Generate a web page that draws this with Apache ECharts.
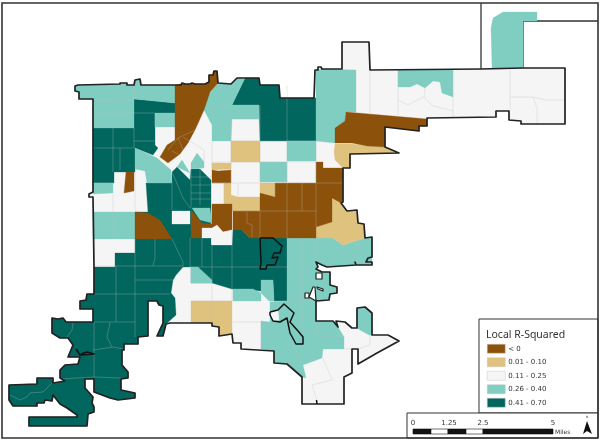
<!DOCTYPE html>
<html><head><meta charset="utf-8">
<style>html,body{margin:0;padding:0;background:#fff}#c{width:600px;height:441px}</style>
<script src="https://cdn.jsdelivr.net/npm/echarts@6/dist/echarts.min.js"></script>
</head><body><div id="c"></div>
<script>
const classNames = ['< 0','0.01 - 0.10','0.11 - 0.25','0.26 - 0.40','0.41 - 0.70'];
const classColors = ['#8c510a','#dfc27d','#f5f5f5','#80cdc1','#01665e'];
const scaleLabels = ['0','1.25','2.5','5'];

const southWestEdge = [[287,301],[274,301],[273,280],[261,280],[261,291],[232,289],[212,283],[191,283],[191,267],[183,267],[176,275],[173,280],[171,293],[175,298],[176,315],[166,324],[163,336],[157,336],[163,323],[163,306],[159,305],[157,301],[148,301],[148,336],[138,337],[138,344],[124,344],[124,350],[122,350],[122,365],[128,372],[128,378],[121,379],[121,390],[135,393],[135,398],[118,400],[110,398],[94,392],[94,379],[85,379],[85,388],[93,397],[92,403],[94,407],[94,412],[88,414],[87,426],[29,426],[29,417],[77,417],[77,415],[67,408],[60,404],[53,395],[52,401],[45,400],[44,403],[37,403],[37,406],[13,406],[9,400],[9,385],[37,384],[37,378],[53,378],[53,383],[65,381],[60,378],[60,370],[65,365],[78,364],[80,357],[68,357],[73,345],[68,338],[60,338],[52,333],[52,318],[58,319],[63,318],[66,322],[93,322],[93,309],[80,309],[80,301],[86,300],[87,294],[94,294],[94,267]];

const cityOutline = [[93,99],[79,99],[79,92],[75,91],[75,86],[78,85],[120,84],[120,83],[127,83],[127,85],[134,85],[135,80],[140,79],[141,85],[181,85],[182,83],[185,84],[190,84],[192,83],[195,84],[205,84],[209,82],[209,75],[213,75],[214,71],[217,71],[218,83],[231,84],[237,78],[259,78],[260,85],[279,85],[280,98],[314,98],[315,70],[318,70],[318,67],[321,67],[322,69],[342,69],[342,42],[369,42],[370,70],[481,69],[523,68],[565,68],[565,124],[521,124],[521,121],[509,120],[509,111],[496,111],[496,117],[427,118],[427,126],[419,126],[419,131],[385,127],[385,147],[399,153],[350,154],[350,168],[343,168],[343,202],[341,203],[347,211],[357,210],[358,223],[364,224],[365,238],[372,237],[372,257],[368,258],[366,262],[372,262],[372,265],[356,265],[355,262],[356,265],[327,267],[322,265],[316,262],[318,267],[316,269],[322,272],[330,272],[330,285],[337,287],[337,293],[330,294],[329,300],[316,301],[316,321],[333,321],[338,327],[336,321],[345,322],[352,328],[357,328],[357,308],[365,307],[372,313],[372,335],[388,335],[399,341],[377,353],[358,364],[358,349],[352,349],[352,373],[344,377],[344,404],[302,404],[302,377],[287,364],[274,363],[274,351],[241,349],[241,343],[233,343],[232,334],[219,336],[219,327],[212,326],[212,323],[170,323]].concat(southWestEdge.slice(15)).concat([[93,197],[89,197],[89,194],[93,192]]);

// fills, one list per class
const brownTracts = [
 [[346,112],[427,119],[427,126],[419,126],[419,131],[385,127],[385,147],[367,146],[352,143],[335,143],[335,128],[345,121]],
 [[175,85],[181,84],[205,84],[209,82],[209,75],[213,75],[214,71],[217,71],[218,83],[210,92],[204,110],[195,130],[188,143],[180,154],[168,163],[160,157],[167,145],[175,140]],
 [[212,170],[218,171],[231,170],[231,183],[212,183]],
 [[126,172],[134,172],[134,191],[124,193]],
 [[135,212],[148,213],[160,220],[172,239],[135,239]],
 [[191,210],[202,223],[212,224],[212,228],[202,228],[202,238],[191,238]],
 [[212,204],[232,204],[232,230],[223,232],[217,227],[212,228]],
 [[260,193],[275,197],[275,183],[316,183],[316,162],[323,162],[323,168],[343,168],[343,202],[341,203],[332,198],[332,222],[316,227],[316,238],[250,238],[242,230],[233,230],[233,211],[260,211]]
];
const tanTracts = [
 [[335,144],[352,144],[367,146],[385,147],[399,153],[350,154],[350,168],[343,168],[335,160],[334,152]],
 [[231,141],[260,141],[260,162],[231,162]],
 [[212,163],[231,163],[231,169],[212,170]],
 [[224,183],[231,183],[231,195],[238,197],[260,197],[260,211],[232,211],[232,204],[224,204]],
 [[260,183],[275,183],[275,197],[260,193]],
 [[332,198],[341,203],[347,211],[357,210],[358,223],[364,224],[365,238],[343,245],[333,238],[316,238],[316,227],[332,222]],
 [[191,301],[232,301],[232,334],[219,336],[219,327],[212,326],[212,323],[191,323]]
];
const lightTealTracts = [
 [[93,99],[79,99],[79,92],[75,91],[75,86],[78,85],[120,84],[120,83],[127,83],[127,85],[134,85],[135,80],[140,79],[141,85],[175,85],[175,103],[134,99],[134,128],[93,128]],
 [[155,113],[175,113],[175,127],[155,127]],
 [[93,183],[113,183],[113,193],[93,194]],
 [[93,212],[135,212],[135,239],[93,239]],
 [[135,148],[144,152],[157,158],[171,170],[172,183],[147,183],[145,171],[135,169]],
 [[182,160],[190,173],[177,167]],
 [[191,163],[197,153],[204,162],[204,168],[191,169]],
 [[192,208],[210,208],[212,223],[200,220]],
 [[218,83],[231,84],[237,78],[245,78],[232,105],[259,105],[259,119],[232,119],[231,141],[212,141],[212,125],[204,110],[208,95]],
 [[316,70],[322,69],[356,70],[356,112],[346,112],[345,121],[335,128],[335,143],[316,141],[316,98]],
 [[398,70],[453,70],[453,97],[442,93],[440,82],[433,81],[425,88],[417,84],[410,87],[398,87]],
 [[287,141],[316,141],[316,161],[287,161]],
 [[260,162],[287,162],[287,182],[260,182]],
 [[191,267],[198,267],[212,280],[212,283],[191,283]],
 [[233,289],[253,289],[261,293],[261,301],[233,301]],
 [[261,280],[273,280],[274,301],[269,301],[261,293]],
 [[287,238],[333,238],[343,245],[365,238],[372,237],[372,265],[356,265],[327,267],[322,265],[316,262],[318,267],[316,269],[322,272],[330,272],[330,285],[337,287],[337,293],[330,294],[329,300],[316,301],[316,321],[333,321],[338,327],[344,337],[344,349],[323,349],[322,358],[303,365],[306,378],[302,377],[287,364],[274,363],[274,351],[261,349],[261,321],[270,322],[270,302],[287,301]],
 [[357,328],[357,308],[365,307],[372,313],[372,335],[369,335],[360,330]],
 [[492,68],[491,28],[493,18],[503,12],[537,12],[537,21],[523,21],[523,68]]
];
const darkTracts = [
 [[93,128],[134,128],[134,99],[175,103],[175,113],[155,113],[155,145],[158,148],[153,155],[135,148],[135,172],[114,172],[114,183],[93,183]],
 [[245,78],[259,78],[260,85],[279,85],[280,98],[316,98],[316,141],[260,141],[259,105],[232,105]],
 [[146,183],[172,183],[172,172],[177,167],[190,180],[191,169],[200,169],[211,180],[211,245],[232,245],[233,230],[242,230],[250,238],[287,238]].concat(southWestEdge).concat([[115,267],[115,253],[135,253],[135,212],[148,212]])
];
const cityBase = [cityOutline];
const whitePatches = [
 [[172,211],[190,211],[190,224],[172,224]],
 [[202,228],[212,228],[212,238],[202,238]],
 [[212,228],[217,225],[223,232],[232,230],[232,245],[212,245]],
 [[270,312],[278,310],[279,320],[273,321],[270,316]]
];

const enclaves = [
 [[260,238],[273,238],[282,246],[280,253],[274,253],[272,258],[278,257],[275,265],[267,265],[266,269],[260,269],[261,263],[260,238]],
 [[270,312],[278,310],[284,304],[294,313],[290,322],[298,331],[303,337],[303,344],[296,344],[290,333],[287,318],[280,322],[273,321],[270,315],[270,312]],
 [[316,273],[322,273],[322,279],[316,279],[316,273]],
 [[317,287],[323,289],[323,291],[318,289],[317,287]],
 [[305,293],[309,293],[309,298],[305,298],[305,293]],
 [[313,287],[315,287],[316,301],[309,297]],
 [[76,349],[80,355],[94,354],[87,352],[81,354]],
 [[316.5,400],[317,404]]
];
const holes = [enclaves[2],enclaves[3],enclaves[4],enclaves[5]];
const outerLines = [
 [[481,69],[481,3]],
 [[523,68],[523,21],[598,21]]
];

const tractLines = [
 [[113,128],[113,172]],[[93,148],[134,148]],[[120,148],[120,170]],[[134,128],[134,148]],[[134,141],[155,141]],[[134,113],[155,113]],[[134,85],[134,99]],[[93,100],[120,101],[134,99]],[[93,113],[134,113]],[[93,183],[114,183]],
 [[113,194],[113,239]],[[135,172],[135,212]],[[172,183],[172,210]],[[172,172],[183,198],[190,208]],
 [[191,177],[211,177]],[[191,185],[211,185]],[[191,193],[211,193]],[[191,199],[211,199]],[[200,169],[200,205]],[[191,169],[191,208]],[[155,113],[155,127]],
 [[260,211],[260,238]],[[275,183],[275,197]],[[287,183],[287,238]],[[302,183],[302,211]],[[233,211],[316,211]],[[316,183],[342,183]],[[316,162],[316,227]],[[247,212],[247,223],[252,225],[252,237]],[[212,183],[231,183]],[[224,183],[224,204]],[[238,183],[238,197]],
 [[135,239],[135,337]],[[155,239],[155,258],[153,266]],[[172,239],[183,262],[183,266]],[[94,266],[183,266]],[[135,280],[174,280]],[[94,294],[170,294]],[[190,238],[190,267]],[[202,238],[202,267]],[[190,267],[287,267]],[[212,245],[212,283]],[[232,230],[232,301]],[[212,283],[212,300]],[[191,301],[233,301]],[[212,300],[212,323]],[[233,322],[261,322]],[[261,321],[261,349]],
 [[303,238],[303,320]],[[316,238],[316,262]],[[287,265],[316,290]],[[270,301],[316,301]],[[316,321],[317,336]],[[317,336],[344,336]],[[293,345],[302,363]],[[323,358],[332,380],[312,385],[317,400]],[[333,238],[356,258]],[[358,240],[358,263]],[[370,335],[370,345],[358,349]],[[344,349],[352,349]],[[303,320],[303,345]],
 [[370,70],[370,115]],[[398,70],[398,117]],[[453,70],[453,117]],[[510,69],[510,111]],[[510,97],[533,97],[537,108],[537,124]],[[533,97],[545,100],[565,100]],[[398,100],[408,105],[417,100],[424,97],[433,106],[453,111]],[[425,88],[424,97]],
 [[116,266],[116,322]],[[94,322],[135,322]],[[94,322],[94,350]],[[110,323],[107,337],[112,347]],[[93,350],[113,347],[123,349]],[[94,350],[94,377]],[[60,379],[94,377],[121,378]],[[73,323],[72,330],[67,337]],[[10,395],[20,400],[27,397],[30,393],[43,392],[52,383]],
 [[287,85],[287,141]],[[231,141],[316,141]],[[231,119],[259,119]],[[260,105],[260,182]],[[231,141],[231,183]],[[287,141],[287,182]],[[212,162],[316,162]],[[212,183],[316,183]],[[316,141],[316,162]],[[231,119],[231,141]],[[212,141],[212,170]],
 [[168,150],[178,138],[195,130]],[[172,151],[180,155]],[[178,138],[183,150]],[[204,110],[232,105]],[[183,137],[204,150]],[[204,150],[204,162]],[[134,99],[134,85]]
];

function fillSeries(name, color, polys, z){
  return {type:'custom', name, coordinateSystem:'cartesian2d', silent:true, animation:false, clip:false, z,
    itemStyle:{color},
    data: polys.map((p,i)=>[p[0][0],p[0][1],i]),
    renderItem(params, api){
      const pts = polys[api.value(2)].map(q=>api.coord(q));
      return {type:'polygon', shape:{points:pts}, style:{fill:color, stroke:color, lineWidth:0.3}};
    }};
}
function lineSeries(name, lines, stroke, width, z, closed, fill){
  return {type:'custom', name, coordinateSystem:'cartesian2d', silent:true, animation:false, clip:false, z,
    data: lines.map((p,i)=>[p[0][0],p[0][1],i]),
    renderItem(params, api){
      const pts = lines[api.value(2)].map(q=>api.coord(q));
      return {type: closed?'polygon':'polyline', shape:{points:pts}, style:{fill:fill||'none', stroke, lineWidth:width, lineJoin:'round'}};
    }};
}

const scaleX = [413,431,448,466,483,553];
const barParts = [];
for(let i=0;i<5;i++) barParts.push({type:'rect',shape:{x:scaleX[i],y:429,width:scaleX[i+1]-scaleX[i],height:5},style:{fill:i%2?'#fff':'#111',stroke:'#111',lineWidth:0.6}});
const labelX = [413,449,483,553];
const labels = scaleLabels.map((t,i)=>({type:'text',x:labelX[i],y:423,style:{text:t,font:'7px "DejaVu Sans"',fill:'#333',textAlign:'center',textVerticalAlign:'middle'}}));

const chart = echarts.init(document.getElementById('c'));
chart.setOption({
  animation:false,
  backgroundColor:'#fff',
  grid:{left:0,right:0,top:0,bottom:0},
  xAxis:{type:'value',min:0,max:600,show:false},
  yAxis:{type:'value',min:0,max:441,inverse:true,show:false},
  legend:{data:classNames.map(name=>({name,icon:'rect'})),orient:'vertical',left:487,top:344,itemWidth:18,itemHeight:9,itemGap:4,padding:0,selectedMode:false,
    itemStyle:{borderWidth:0.5,borderColor:'#c8c8c8'},
    textStyle:{fontFamily:'DejaVu Sans',fontSize:7,color:'#333',lineHeight:9,padding:[0,0,0,-2]}},
  graphic:[
    {type:'rect',shape:{x:479,y:319,width:119,height:94},style:{fill:'#fff',stroke:'#333',lineWidth:1}},
    {type:'rect',shape:{x:407,y:413,width:191,height:25},style:{fill:'#fff',stroke:'#333',lineWidth:1}},
    {type:'rect',shape:{x:2,y:3,width:596,height:435},style:{fill:'none',stroke:'#333',lineWidth:1.6},z:10},
    {type:'text',x:486,y:335,style:{text:'Local R-Squared',font:'10.5px "Noto Sans"',fill:'#333',textVerticalAlign:'middle'}},
    ...barParts,...labels,
    {type:'text',x:555,y:432,style:{text:'Miles',font:'6px "DejaVu Sans"',fill:'#333',textVerticalAlign:'middle'}},
    {type:'text',x:587,y:417,style:{text:'N',font:'3px "DejaVu Sans"',fill:'#333',textAlign:'center',textVerticalAlign:'middle'}},
    {type:'polygon',shape:{points:[[587,421],[592,434],[587,431],[583,434]]},style:{fill:'#111'}}
  ],
  series:[
    lineSeries('outer',outerLines,'#333',1.3,1,false),
    fillSeries(classNames[2],classColors[2],cityBase,2),
    fillSeries(classNames[4],classColors[4],darkTracts,3),
    fillSeries(classNames[3],classColors[3],lightTealTracts,4),
    fillSeries(classNames[1],classColors[1],tanTracts,5),
    fillSeries(classNames[0],classColors[0],brownTracts,6),
    fillSeries(classNames[2],classColors[2],whitePatches,7),
    lineSeries('tracts',tractLines,'rgba(190,190,190,0.45)',0.7,8,false),
    lineSeries('holes',holes,'#222',1.2,9,true,'#fff'),
    lineSeries('boundary',[cityOutline],'#222',1.7,10,true),
    lineSeries('enclaves',[enclaves[0],enclaves[1],enclaves[6],enclaves[7]],'#111',1.5,11,false)
  ]
});
</script></body></html>
